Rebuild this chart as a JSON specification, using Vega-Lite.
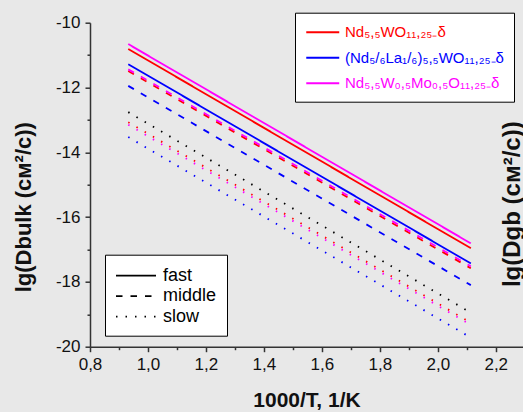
{
  "$schema": "https://vega.github.io/schema/vega-lite/v6.json",
  "autosize": "none",
  "width": 433,
  "height": 324,
  "padding": {"left": 90, "top": 22.7, "right": 0, "bottom": 65.3},
  "background": "#e8e8e8",
  "config": {
    "font": "Liberation Sans",
    "view": {"stroke": null},
    "axis": {"domainColor": "#333333", "tickColor": "#333333", "domainWidth": 1.5, "tickWidth": 1.5, "grid": false, "labelColor": "#111111", "titleColor": "#111111", "labelFont": "Liberation Sans", "titleFont": "Liberation Sans"},
    "legend": {"labelFont": "Liberation Sans"}
  },
  "data": {"values": [
    {"m": "Nd₅,₅W₀,₅Mo₀,₅O₁₁,₂₅₋δ", "s": "fast", "x": 0.932, "y": -10.66},
    {"m": "Nd₅,₅W₀,₅Mo₀,₅O₁₁,₂₅₋δ", "s": "fast", "x": 2.114, "y": -16.81},
    {"m": "Nd₅,₅WO₁₁,₂₅₋δ", "s": "fast", "x": 0.932, "y": -10.81},
    {"m": "Nd₅,₅WO₁₁,₂₅₋δ", "s": "fast", "x": 2.114, "y": -16.96},
    {"m": "(Nd₅/₆La₁/₆)₅,₅WO₁₁,₂₅₋δ", "s": "fast", "x": 0.932, "y": -11.28},
    {"m": "(Nd₅/₆La₁/₆)₅,₅WO₁₁,₂₅₋δ", "s": "fast", "x": 2.114, "y": -17.43},
    {"m": "Nd₅,₅WO₁₁,₂₅₋δ", "s": "middle", "x": 0.932, "y": -11.49},
    {"m": "Nd₅,₅WO₁₁,₂₅₋δ", "s": "middle", "x": 2.114, "y": -17.58},
    {"m": "Nd₅,₅W₀,₅Mo₀,₅O₁₁,₂₅₋δ", "s": "middle", "x": 0.932, "y": -11.44},
    {"m": "Nd₅,₅W₀,₅Mo₀,₅O₁₁,₂₅₋δ", "s": "middle", "x": 2.114, "y": -17.52},
    {"m": "(Nd₅/₆La₁/₆)₅,₅WO₁₁,₂₅₋δ", "s": "middle", "x": 0.932, "y": -11.95},
    {"m": "(Nd₅/₆La₁/₆)₅,₅WO₁₁,₂₅₋δ", "s": "middle", "x": 2.114, "y": -18.10},
    {"m": "other", "s": "slow", "x": 0.932, "y": -12.76},
    {"m": "other", "s": "slow", "x": 2.114, "y": -18.95},
    {"m": "Nd₅,₅WO₁₁,₂₅₋δ", "s": "slow", "x": 0.932, "y": -13.07},
    {"m": "Nd₅,₅WO₁₁,₂₅₋δ", "s": "slow", "x": 2.114, "y": -19.26},
    {"m": "Nd₅,₅W₀,₅Mo₀,₅O₁₁,₂₅₋δ", "s": "slow", "x": 0.932, "y": -13.15},
    {"m": "Nd₅,₅W₀,₅Mo₀,₅O₁₁,₂₅₋δ", "s": "slow", "x": 2.114, "y": -19.33},
    {"m": "(Nd₅/₆La₁/₆)₅,₅WO₁₁,₂₅₋δ", "s": "slow", "x": 0.932, "y": -13.53},
    {"m": "(Nd₅/₆La₁/₆)₅,₅WO₁₁,₂₅₋δ", "s": "slow", "x": 2.114, "y": -19.72}
  ]},
  "resolve": {"axis": {"x": "independent", "y": "independent"}},
  "layer": [
    {
      "mark": {"type": "line", "strokeWidth": 1.8, "clip": true},
      "encoding": {
        "x": {"field": "x", "type": "quantitative",
          "scale": {"domain": [0.8, 2.294], "nice": false, "zero": false},
          "axis": {
            "values": [0.8, 0.9, 1.0, 1.1, 1.2, 1.3, 1.4, 1.5, 1.6, 1.7, 1.8, 1.9, 2.0, 2.1, 2.2],
            "labelExpr": "round(datum.value*10) % 2 == 0 ? replace(format(datum.value, '.1f'), '.', ',') : ''",
            "tickSize": {"condition": {"test": "round(datum.value*10) % 2 != 0", "value": 3}, "value": 5},
            "labelPadding": 5, "labelFontSize": 17, "labelFlush": false, "labelOverlap": false,
            "title": "1000/T, 1/K", "titleFontSize": 21, "titleFontWeight": "bold", "titlePadding": 17
          }},
        "y": {"field": "y", "type": "quantitative",
          "scale": {"domain": [-20, -10], "nice": false, "zero": false},
          "axis": {
            "values": [-20, -19, -18, -17, -16, -15, -14, -13, -12, -11, -10],
            "labelExpr": "datum.value % 2 == 0 ? '' + datum.value : ''",
            "tickSize": {"condition": {"test": "datum.value % 2 != 0", "value": 3}, "value": 5},
            "labelPadding": 5, "labelFontSize": 17, "labelOverlap": false,
            "title": "lg(Dbulk (см²/с))", "titleFontSize": 22, "titleFontWeight": "bold", "titlePadding": 20, "titleY": 184
          }},
        "color": {"field": "m", "type": "nominal",
          "scale": {"domain": ["Nd₅,₅WO₁₁,₂₅₋δ", "(Nd₅/₆La₁/₆)₅,₅WO₁₁,₂₅₋δ", "Nd₅,₅W₀,₅Mo₀,₅O₁₁,₂₅₋δ", "other"], "range": ["#ff0000", "#0000ff", "#ff00ff", "#000000"]},
          "legend": {
            "values": ["Nd₅,₅WO₁₁,₂₅₋δ", "(Nd₅/₆La₁/₆)₅,₅WO₁₁,₂₅₋δ", "Nd₅,₅W₀,₅Mo₀,₅O₁₁,₂₅₋δ"],
            "orient": "none", "legendX": 205, "legendY": -10, "title": null,
            "symbolType": "M-1,0H3", "symbolSize": 272, "symbolStrokeWidth": 2,
            "labelFontSize": 15, "labelOffset": 21, "rowPadding": 7.5, "padding": 10,
            "fillColor": "#ffffff", "strokeColor": "#000000", "labelLimit": 300,
            "encode": {"labels": {"update": {"fill": {"scale": "color", "field": "value"}}}}
          }},
        "strokeDash": {"field": "s", "type": "nominal",
          "scale": {"domain": ["fast", "middle", "slow"], "range": [[1, 0], [6.5, 8], [1.5, 8]]},
          "legend": {
            "orient": "none", "legendX": 15, "legendY": 232, "title": null,
            "symbolType": "M-1,0H3", "symbolSize": 400, "symbolStrokeWidth": 1.8, "symbolStrokeColor": "#000000",
            "labelFontSize": 18, "labelColor": "#000000", "labelOffset": 26, "rowPadding": 0.5, "padding": 10,
            "fillColor": "#ffffff", "strokeColor": "#000000"
          }}
      }
    },
    {
      "mark": {"type": "line", "opacity": 0},
      "encoding": {
        "x": {"field": "x", "type": "quantitative", "axis": null},
        "y": {"field": "y", "type": "quantitative",
          "axis": {"orient": "right", "domain": false, "ticks": false, "labels": false,
            "title": "lg(Dgb (см²/с))", "titleAngle": 270, "titleBaseline": "top", "titleAlign": "center",
            "titleX": -23, "titleY": 181, "titleFontSize": 24, "titleFontWeight": "bold"}}
      }
    }
  ]
}
